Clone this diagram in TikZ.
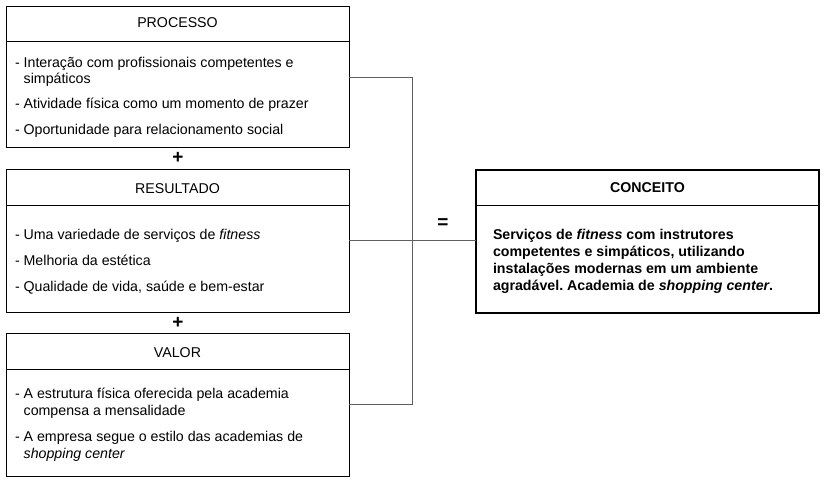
\documentclass[tikz,border=0pt]{standalone}
\usepackage{fontspec}
\setmainfont{Liberation Sans}
\frenchspacing
\begin{document}
\begin{tikzpicture}[x=1pt,y=-1pt,
  every node/.style={inner sep=0pt, outer sep=0pt},
  box/.style={draw=black, line width=0.9pt, anchor=north west, minimum width=343pt, minimum height=143pt},
  cbox/.style={draw=black, line width=1.8pt, anchor=north west, minimum width=343pt, minimum height=143pt},
  hdr/.style={draw=black, line width=0.8pt},
  ttl/.style={anchor=base, font=\fontsize{14.2}{17}\selectfont},
  item/.style={anchor=base west, align=left, font=\fontsize{14.2}{17}\selectfont},
  op/.style={font=\fontsize{19}{19}\selectfont\bfseries},
  conn/.style={draw={rgb,255:red,95;green,95;blue,95}, line width=0.8pt}]
\useasboundingbox (0,0) rectangle (830,487);

% PROCESSO
\node[box, minimum height=141pt] (proc) at (6,6) {};
\draw[hdr] (6,41) -- (349,41);
\node[ttl] (proct) at (177.5,28) {PROCESSO};
\node[item] (p1) at (15,84) {- Interação com profissionais competentes e\\\phantom{- }simpáticos};
\node[item] (p2) at (15,108) {- Atividade física como um momento de prazer};
\node[item] (p3) at (15,134) {- Oportunidade para relacionamento social};

\node[op] (plus1) at (178,158) {+};

% RESULTADO
\node[box] (res) at (6,169) {};
\draw[hdr] (6,205) -- (349,205);
\node[ttl] (rest) at (177.5,193) {RESULTADO};
\node[item] (r1) at (15,239) {- Uma variedade de serviços de \textit{fitness}};
\node[item] (r2) at (15,265) {- Melhoria da estética};
\node[item] (r3) at (15,291) {- Qualidade de vida, saúde e bem-estar};

\node[op] (plus2) at (178,323) {+};

% VALOR
\node[box] (val) at (6,333) {};
\draw[hdr] (6,369) -- (349,369);
\node[ttl] (valt) at (177.5,357) {VALOR};
\node[item] (v1) at (15,415) {- A estrutura física oferecida pela academia\\\phantom{- }compensa a mensalidade};
\node[item] (v2) at (15,458) {- A empresa segue o estilo das academias de\\\phantom{- }\textit{shopping center}};

% CONCEITO
\node[cbox] (conc) at (476,170) {};
\draw[hdr, line width=1pt] (476,205) -- (819,205);
\node[ttl, font=\fontsize{14.2}{17}\selectfont\bfseries] (conct) at (647.5,192) {CONCEITO};
\node[item, font=\fontsize{14.2}{17}\selectfont\bfseries] (c1) at (493,290) {Serviços de \textit{fitness} com instrutores\\competentes e simpáticos, utilizando\\instalações modernas em um ambiente\\agradável. Academia de \textit{shopping center}.};

\node[op] (eq) at (443,224) {=};

% connectors
\coordinate (jt) at (412,77);
\coordinate (jb) at (412,404);
\coordinate (jm) at (412,240);
\draw[conn] (proc.east |- jt) -- (jt) -- (jb) -- (val.east |- jb);
\draw[conn] (res.east |- jm) -- (conc.west |- jm);
\end{tikzpicture}
\end{document}
